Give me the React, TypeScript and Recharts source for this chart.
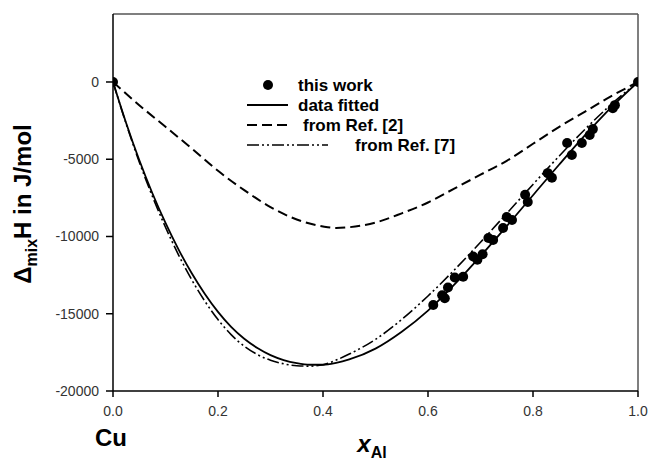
import React from "react";
import {
  ComposedChart,
  Line,
  Scatter,
  XAxis,
  YAxis,
  ReferenceLine,
} from "recharts";

// x_Al values and enthalpy (J/mol)
const fittedX = [0, 0.025, 0.05, 0.075, 0.1, 0.125, 0.15, 0.175, 0.2, 0.225, 0.25, 0.275, 0.3, 0.325, 0.35, 0.375, 0.4, 0.425, 0.45, 0.5, 0.55, 0.6, 0.65, 0.7, 0.75, 0.8, 0.85, 0.9, 0.95, 1];
const fittedY = [0, -2650, -5050, -7200, -9120, -10850, -12380, -13720, -14880, -15850, -16620, -17220, -17680, -18000, -18200, -18300, -18300, -18180, -17960, -17260, -16170, -14800, -13120, -11270, -9330, -7330, -5340, -3410, -1610, 0];

const ref7X = fittedX;
const ref7Y = [0, -2700, -5170, -7400, -9400, -11200, -12800, -14190, -15380, -16350, -17100, -17640, -18010, -18240, -18370, -18390, -18300, -18000, -17610, -16660, -15370, -13850, -12170, -10370, -8510, -6630, -4790, -3030, -1420, 0];

const ref2X = [0, 0.05, 0.1, 0.15, 0.2, 0.25, 0.3, 0.35, 0.4, 0.425, 0.45, 0.5, 0.55, 0.6, 0.65, 0.7, 0.75, 0.8, 0.85, 0.9, 0.95, 1];
const ref2Y = [0, -1500, -2900, -4300, -5750, -7000, -8100, -8900, -9350, -9450, -9400, -9100, -8500, -7800, -6900, -6000, -5100, -4000, -2900, -1900, -900, 0];

const workX = [0, 1, 0.61, 0.627, 0.632, 0.638, 0.651, 0.667, 0.686, 0.694, 0.704, 0.715, 0.724, 0.743, 0.75, 0.76, 0.785, 0.79, 0.828, 0.836, 0.865, 0.874, 0.893, 0.908, 0.914, 0.952, 0.956];
const workY = [0, 0, -14430, -13800, -14000, -13300, -12650, -12600, -11300, -11500, -11150, -10100, -10220, -9450, -8740, -8930, -7300, -7770, -5900, -6200, -3950, -4720, -3950, -3430, -3050, -1700, -1500];

const xTicks = [0, 0.2, 0.4, 0.6, 0.8, 1.0];
const yTicks = [-20000, -15000, -10000, -5000, 0];

const zip = (xs: number[], ys: number[]) => xs.map((x, i) => ({ x, y: ys[i] }));
const fitted = zip(fittedX, fittedY);
const ref7 = zip(ref7X, ref7Y);
const ref2 = zip(ref2X, ref2Y);
const work = zip(workX, workY);

const FONT = '"Liberation Sans", Arial, Helvetica, sans-serif';
const DASH2 = "10 5";
const DASH7 = "12 3 2 3 2 3";

const Dot = (props: any) => {
  const { cx, cy } = props;
  if (cx == null || cy == null) return null;
  return <circle cx={cx} cy={cy} r={5} fill="#000" />;
};

export default function App() {
  return (
    <div style={{ position: "absolute", left: 0, top: 0, width: 651, height: 463, background: "#fff" }}>
      <ComposedChart
        width={651}
        height={463}
        margin={{ top: 14, right: 13, bottom: 0, left: 0 }}
        style={{ fontFamily: FONT }}
      >
        <XAxis
          type="number"
          dataKey="x"
          domain={[0, 1]}
          ticks={xTicks}
          tickFormatter={(v: number) => v.toFixed(1)}
          height={72}
          tickSize={6}
          tickMargin={9}
          stroke="#000"
          strokeWidth={1.5}
          tick={{ fill: "#333", fontSize: 14, fontFamily: FONT }}
          allowDataOverflow
        />
        <YAxis
          type="number"
          dataKey="y"
          domain={[-20000, 4400]}
          ticks={yTicks}
          width={113}
          tickSize={7}
          tickMargin={7}
          stroke="#000"
          strokeWidth={1.5}
          tick={{ fill: "#333", fontSize: 14, fontFamily: FONT }}
          allowDataOverflow
        />
        <ReferenceLine y={4400} stroke="#555" strokeWidth={1.5} ifOverflow="visible" />
        <ReferenceLine x={1} stroke="#555" strokeWidth={1.5} ifOverflow="visible" />
        <Line data={ref2} dataKey="y" type="monotone" stroke="#000" strokeWidth={2} strokeDasharray={DASH2} dot={false} isAnimationActive={false} />
        <Line data={ref7} dataKey="y" type="monotone" stroke="#000" strokeWidth={1.6} strokeDasharray={DASH7} dot={false} isAnimationActive={false} />
        <Line data={fitted} dataKey="y" type="monotone" stroke="#000" strokeWidth={1.8} dot={false} isAnimationActive={false} />
        <Scatter data={work} dataKey="y" fill="#000" shape={Dot} isAnimationActive={false} />
      </ComposedChart>
      <svg
        width={651}
        height={463}
        style={{ position: "absolute", left: 0, top: 0, pointerEvents: "none" }}
        fontFamily={FONT}
      >
        {/* legend */}
        <circle cx={268} cy={85} r={5} fill="#000" />
        <text x={298} y={91} fontSize={17} fontWeight="bold" fill="#000">this work</text>
        <line x1={247} y1={105} x2={288} y2={105} stroke="#000" strokeWidth={1.8} />
        <text x={298} y={111} fontSize={17} fontWeight="bold" fill="#000">data fitted</text>
        <line x1={247} y1={125} x2={288} y2={125} stroke="#000" strokeWidth={2} strokeDasharray={DASH2} />
        <text x={303} y={131} fontSize={17} fontWeight="bold" fill="#000">from Ref. [2]</text>
        <line x1={247} y1={145} x2={328} y2={145} stroke="#000" strokeWidth={1.6} strokeDasharray={DASH7} />
        <text x={355} y={151} fontSize={17} fontWeight="bold" fill="#000">from Ref. [7]</text>

        {/* axis titles */}
        <text
          transform="translate(31,204) rotate(-90)"
          textAnchor="middle"
          fontSize={24}
          fontWeight="bold"
          fill="#000"
        >
          Δ<tspan fontSize={16} dy={6}>mix</tspan><tspan dy={-6}>H in J/mol</tspan>
        </text>
        <text x={111} y={446} textAnchor="middle" fontSize={24} fontWeight="bold" fill="#000">Cu</text>
        <text x={372} y={452} textAnchor="middle" fontSize={24} fontWeight="bold" fill="#000">
          <tspan fontStyle="italic">x</tspan><tspan fontSize={16} dy={6}>Al</tspan>
        </text>
      </svg>
    </div>
  );
}
